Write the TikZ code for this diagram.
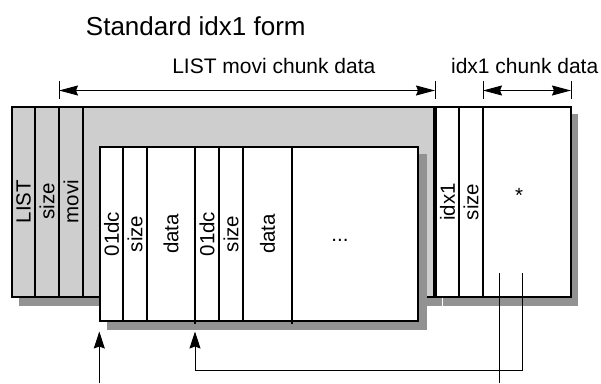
\documentclass[tikz,border=0pt]{standalone}
\usepackage{fontspec}
\setmainfont{Liberation Sans}
\usetikzlibrary{arrows.meta}
\definecolor{boxgrey}{RGB}{206,206,206}
\definecolor{shadowgrey}{RGB}{146,146,146}
\begin{document}
\begin{tikzpicture}[x=1pt,y=-1pt,
  frame/.style={draw=black, line width=1.5pt},
  shadowbox/.style={fill=shadowgrey, draw=none},
  sepline/.style={draw=black, line width=1.3pt},
  chunksep/.style={draw=black, line width=2.1pt},
  lbl/.style={font=\fontsize{20.5}{24}\selectfont, inner sep=0pt},
  vlbl/.style={lbl, rotate=90},
  toplbl/.style={font=\fontsize{21}{25}\selectfont, inner sep=0pt, anchor=base},
  titlelbl/.style={font=\fontsize{26}{30}\selectfont, inner sep=0pt, anchor=base},
  tip/.tip={Stealth[length=19pt,width=10pt,inset=2pt]},
  uptip/.tip={Stealth[length=17pt,width=11pt,inset=2pt]},
  dimline/.style={line width=1.1pt, tip-tip},
  tick/.style={line width=1pt},
  ptr/.style={line width=0.9pt}]
\useasboundingbox (0,0) rectangle (601,383);

% shadows
\fill[shadowbox] (19,114) rectangle (442,306);
\fill[shadowbox] (443,114) rectangle (578,306);
% outer LIST box
\draw[frame, fill=boxgrey] (12,107) rectangle (434,297);
\foreach \x in {35,59,83} \draw[sepline] (\x,107) -- (\x,297);
% idx1 box
\draw[frame, fill=white] (436,107) rectangle (571,297);
\foreach \x in {459,483} \draw[sepline] (\x,107) -- (\x,297);
% inner movi data box
\fill[shadowbox] (107,154) rectangle (427,330);
\draw[frame, fill=white] (100,147) rectangle (418,321);
\foreach \x in {123,147,219,243} \draw[sepline] (\x,147) -- (\x,321);
\foreach \x in {195,292} \draw[chunksep] (\x,147) -- (\x,323.5);

% box labels
\node[vlbl] (tLIST) at (23.5,201.5) {LIST};
\node[vlbl] (tsize) at (47,201.5) {size};
\node[vlbl] (tmovi) at (71,201.5) {movi};
\node[vlbl] (ta) at (111.5,234) {01dc};
\node[vlbl] (tb) at (135,234) {size};
\node[vlbl] (tc) at (171,234) {data};
\node[vlbl] (td) at (207,234) {01dc};
\node[vlbl] (te) at (231,234) {size};
\node[vlbl] (tf) at (267.5,234) {data};
\node[lbl, anchor=base] (tdots) at (340,241.5) {...};
\node[vlbl] (tidx) at (447.5,202) {idx1};
\node[vlbl] (tisize) at (471,202) {size};
\node[lbl, anchor=base] (tstar) at (519,202) {*};

% titles
\node[titlelbl] (title) at (195.8,35) {Standard idx1 form};
\node[toplbl] (lmovi) at (273.8,73.3) {LIST movi chunk data};
\node[toplbl] (lidx) at (524.7,73.3) {idx1 chunk data};

% dimension arrows
\coordinate (L1) at (59,90.5);
\coordinate (R1) at (435,90.5);
\coordinate (L2) at (483,90.5);
\coordinate (R2) at (571,90.5);
\foreach \x in {59,435,483,571} \draw[tick] (\x,81) -- (\x,98.5);
\draw[dimline] (L1) -- (R1);
\draw[dimline] (L2) -- (R2);

% pointers
\coordinate (p1s) at (99.3,383);
\coordinate (p1e) at (99.3,331.5);
\coordinate (p2s) at (522.7,273.3);
\coordinate (p2c) at (195,370);
\coordinate (p2e) at (195,331.5);
\coordinate (p3s) at (499.3,273.3);
\coordinate (p3e) at (499.3,383);
\draw[ptr, -uptip] (p1s) -- (p1e);
\draw[ptr, -uptip] (p2s) |- (p2c) -- (p2e);
\draw[ptr] (p3s) -- (p3e);
\end{tikzpicture}
\end{document}
